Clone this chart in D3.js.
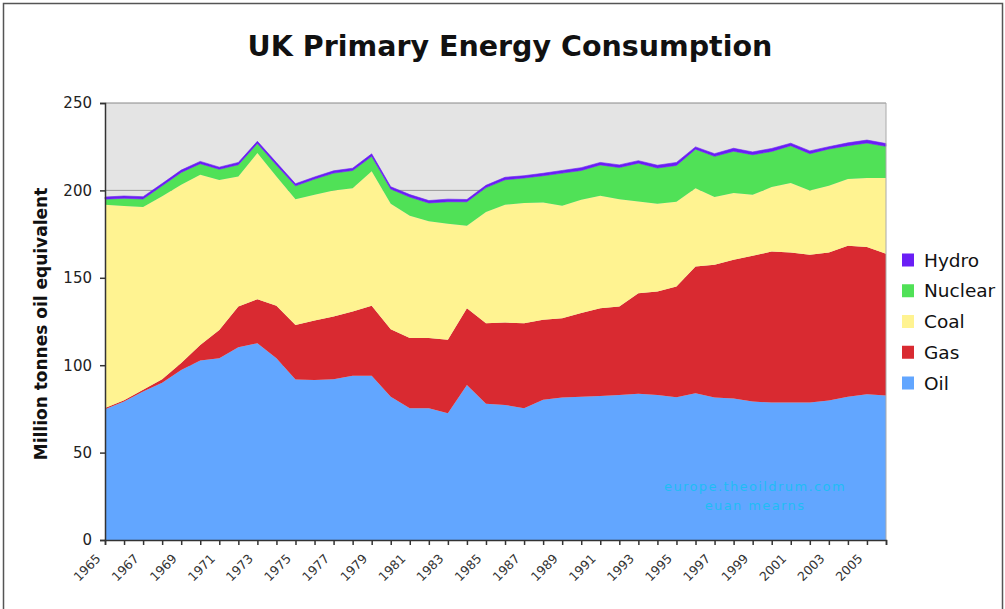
<html>
<head>
    <script src="https://d3js.org/d3.v7.min.js"></script>
    <title>UK Primary Energy Consumption</title>
</head>
<style>
    body { margin: 0; background: #fff; font-family: "DejaVu Sans", Verdana, sans-serif; }
    .axis path, .axis line { stroke: #333; stroke-width: 1.5; }
</style>
<body>
<div id="chart"></div>
<script>
    // values, million tonnes oil equivalent
    const years = d3.range(1965, 2007);
    const oil = [74.8, 79.2, 84.9, 90.0, 97.3, 102.7, 104.0, 110.3, 112.6, 104.0,
        91.8, 91.6, 92.0, 93.9, 93.9, 82.0, 75.4, 75.4, 72.5, 88.7,
        77.9, 77.3, 75.4, 80.2, 81.5, 82.0, 82.4, 83.0, 83.6, 83.0,
        81.7, 84.0, 81.5, 80.9, 79.2, 78.6, 78.6, 78.6, 79.8, 82.0,
        83.4, 82.6];
    const gas = [0.7, 0.8, 1.0, 2.0, 3.9, 8.9, 16.2, 23.3, 25.2, 30.0,
        31.2, 34.0, 35.9, 36.8, 40.1, 38.6, 40.1, 40.1, 42.0, 43.9,
        46.1, 47.1, 48.6, 45.8, 45.4, 47.8, 50.2, 50.6, 57.6, 59.2,
        63.3, 72.5, 75.9, 79.4, 83.4, 86.4, 85.9, 84.6, 84.7, 86.3,
        84.2, 81.1];
    const coal = [116.3, 111.1, 104.6, 104.6, 102.0, 97.4, 85.8, 74.4, 83.6, 74.0,
        72.0, 71.9, 72.1, 70.6, 76.9, 71.8, 70.0, 66.8, 66.4, 47.2,
        63.7, 67.4, 68.8, 67.1, 64.3, 64.8, 64.3, 61.4, 52.5, 50.2,
        48.5, 44.8, 38.8, 38.2, 34.9, 36.9, 39.7, 36.8, 38.2, 38.2,
        39.5, 43.4];
    const nuclear = [3.2, 4.4, 4.6, 6.1, 7.1, 6.3, 6.1, 6.7, 5.5, 6.5,
        7.6, 9.0, 9.9, 10.1, 8.6, 8.4, 10.7, 10.5, 12.6, 13.7,
        13.9, 14.3, 14.3, 15.3, 18.7, 16.8, 17.7, 18.1, 21.9, 20.4,
        20.8, 22.3, 23.3, 23.9, 22.9, 20.4, 21.4, 21.0, 21.0, 19.1,
        20.0, 18.1];
    const hydro = [1.2, 1.3, 1.3, 1.2, 1.3, 1.3, 1.2, 1.3, 1.2, 1.4,
        1.2, 1.2, 1.3, 1.3, 1.4, 1.3, 1.4, 1.4, 1.5, 1.3,
        1.3, 1.4, 1.3, 1.4, 1.5, 1.6, 1.4, 1.5, 1.4, 1.6,
        1.7, 1.3, 1.5, 1.7, 1.6, 1.7, 1.4, 1.6, 1.3, 1.6,
        1.7, 1.6];
    const keys = ["Oil", "Gas", "Coal", "Nuclear", "Hydro"];
    const colors = ["#62a6ff", "#d92a31", "#fff391", "#50e157", "#6a1ef5"];
    const yTicks = [0, 50, 100, 150, 200, 250];
    const xLabels = d3.range(1965, 2006, 2);

    const rows = years.map((y, i) => ({
        year: y, Oil: oil[i], Gas: gas[i], Coal: coal[i], Nuclear: nuclear[i], Hydro: hydro[i]
    }));

    const width = 1005, height = 609;
    const margin = {top: 103, right: 119, bottom: 69, left: 105};

    const svg = d3.select("#chart").append("svg")
        .attr("width", width)
        .attr("height", height);

    // outer frame
    svg.append("rect")
        .attr("x", 3.5).attr("y", 3.5)
        .attr("width", 999).attr("height", 640)
        .attr("fill", "none").attr("stroke", "#555").attr("stroke-width", 1.5);

    svg.append("text")
        .attr("x", 510).attr("y", 56)
        .attr("text-anchor", "middle")
        .attr("font-size", "28.5px").attr("font-weight", "bold")
        .attr("fill", "#111")
        .text("UK Primary Energy Consumption");

    const x = d3.scaleLinear().domain([1965, 2006]).range([margin.left, width - margin.right]);
    const y = d3.scaleLinear().domain([0, 250]).range([height - margin.bottom, margin.top]);

    // plot background and grid
    svg.append("rect")
        .attr("x", x(1965)).attr("y", y(250))
        .attr("width", x(2006) - x(1965)).attr("height", y(0) - y(250))
        .attr("fill", "#e4e4e4");
    svg.selectAll(".grid").data(yTicks.slice(1)).join("line")
        .attr("class", "grid")
        .attr("x1", x(1965)).attr("x2", x(2006))
        .attr("y1", d => y(d)).attr("y2", d => y(d))
        .attr("stroke", d => d == 250 ? "#888" : "#999").attr("stroke-width", 1);

    const stack = d3.stack().keys(keys)(rows);
    const area = d3.area()
        .x(d => x(d.data.year))
        .y0(d => y(d[0]))
        .y1(d => y(d[1]));

    svg.selectAll(".layer").data(stack).join("path")
        .attr("class", "layer")
        .attr("d", area)
        .attr("fill", (d, i) => colors[i])
        .attr("stroke", (d, i) => i == 4 ? colors[i] : "none")
        .attr("stroke-width", 0.6);

    // right edge of plot
    svg.append("line")
        .attr("x1", x(2006)).attr("x2", x(2006))
        .attr("y1", y(250)).attr("y2", y(0))
        .attr("stroke", "#aaa");

    // y axis
    const yAxis = svg.append("g")
        .attr("class", "axis")
        .attr("transform", `translate(${x(1965)},0)`)
        .call(d3.axisLeft(y).tickValues(yTicks).tickSize(5).tickPadding(8));
    yAxis.selectAll("text").attr("font-size", "15px").attr("fill", "#222")
        .attr("font-family", "DejaVu Sans");

    // x axis with a tick every year
    const xAxis = svg.append("g")
        .attr("class", "axis")
        .attr("transform", `translate(0,${y(0)})`)
        .call(d3.axisBottom(x).tickValues(years).tickSize(5).tickFormat(""));

    svg.selectAll(".xlab").data(xLabels).join("text")
        .attr("class", "xlab")
        .attr("transform", d => `translate(${x(d) - 6},${y(0) + 17}) rotate(-45)`)
        .attr("text-anchor", "end")
        .attr("dominant-baseline", "middle")
        .attr("font-size", "12.5px")
        .attr("fill", "#333")
        .text(d => d);

    svg.append("text")
        .attr("transform", `translate(47,${324}) rotate(-90)`)
        .attr("text-anchor", "middle")
        .attr("font-size", "17px").attr("font-weight", "bold")
        .attr("fill", "#111")
        .text("Million tonnes oil equivalent");

    // watermark
    const wm = svg.append("g").attr("fill", "#1fbdf5").attr("font-size", "13px")
        .attr("text-anchor", "middle").attr("letter-spacing", "1.4px");
    wm.append("text").attr("x", 755).attr("y", 491).text("europe.theoildrum.com");
    wm.append("text").attr("x", 755).attr("y", 510).text("euan mearns");

    // legend, top entry is the top layer
    const legendKeys = keys.slice().reverse();
    const legend = svg.selectAll(".legend").data(legendKeys).join("g")
        .attr("class", "legend")
        .attr("transform", (d, i) => `translate(902,${260 + i * 30.75})`);
    legend.append("rect")
        .attr("x", 0).attr("y", -6.5)
        .attr("width", 12).attr("height", 13)
        .attr("fill", d => colors[keys.indexOf(d)]);
    legend.append("text")
        .attr("x", 22).attr("y", 0)
        .attr("dominant-baseline", "central")
        .attr("font-size", "18.5px").attr("fill", "#111")
        .text(d => d);
</script>
</body>
</html>
